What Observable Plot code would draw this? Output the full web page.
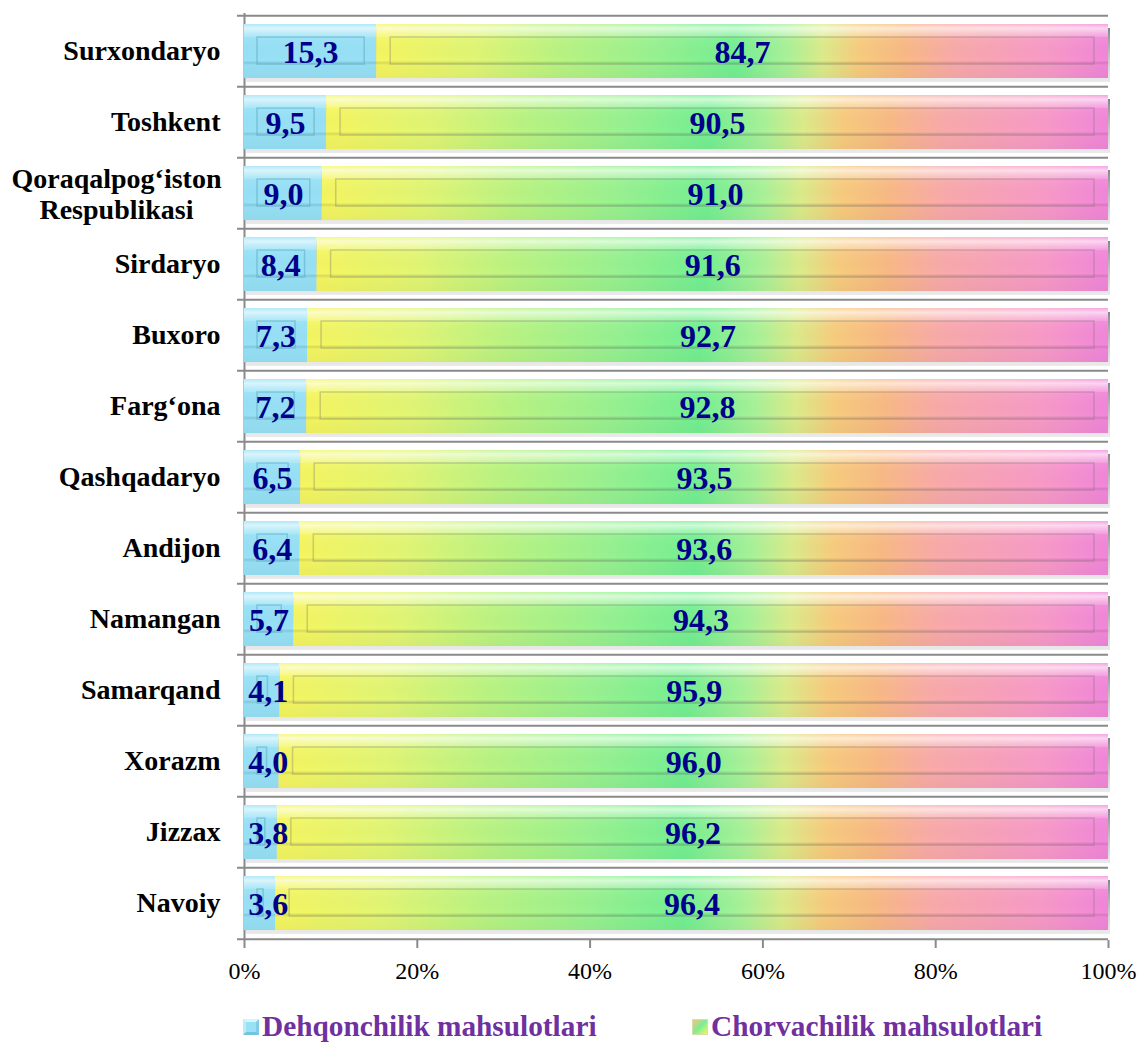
<!DOCTYPE html>
<html><head><meta charset="utf-8">
<script src="https://cdn.jsdelivr.net/npm/d3@7"></script>
<script src="https://cdn.jsdelivr.net/npm/@observablehq/plot@0.6"></script>
<style>
body{margin:0;background:#fff;}
#wrap{position:relative;width:1139px;height:1043px;overflow:hidden;}
.legend{position:absolute;top:1005px;height:43px;display:flex;align-items:center;font-family:"Liberation Serif","Times New Roman",serif;font-weight:bold;font-size:29.3px;color:#7030a0;white-space:nowrap;}
.sw{width:16px;height:16px;margin-right:3px;box-sizing:border-box;}
.sw1{background:#99e2f6;border:3px solid;border-color:#d4f5fc #80cbe6 #74c2dc #bcecf8;}
.sw2{background:linear-gradient(135deg,#f8c47a 0%,#7aee94 50%,#f5f560 100%);border:1px solid #dcdca8;}
</style></head><body><div id="wrap"></div>
<script>
const categories = ["Surxondaryo","Toshkent","Qoraqalpog‘iston\nRespublikasi","Sirdaryo","Buxoro","Farg‘ona","Qashqadaryo","Andijon","Namangan","Samarqand","Xorazm","Jizzax","Navoiy"];
const dehqonchilik = [15.3,9.5,9.0,8.4,7.3,7.2,6.5,6.4,5.7,4.1,4.0,3.8,3.6];
const chorvachilik = [84.7,90.5,91.0,91.6,92.7,92.8,93.5,93.6,94.3,95.9,96.0,96.2,96.4];
const xTicks = [0,20,40,60,80,100];
const seriesNames = ["Dehqonchilik mahsulotlari","Chorvachilik mahsulotlari"];

const rows = categories.map((c,i)=>({cat:c, d:dehqonchilik[i], c:chorvachilik[i]}));
const fmt = v => v.toFixed(1).replace(".", ",");

const W = 1139, H = 1000, mT = 13, mB = 60, mL = 244, mR = 31;
const step = (H - mT - mB) / categories.length;

function defs() {
  const d = d3.create("svg:defs");
  const g1 = d.append("linearGradient").attr("id","gChorva").attr("x1",0).attr("x2",1).attr("y1",0).attr("y2",0);
  [[0,"#f6f660"],[0.13,"#e2f674"],[0.25,"#baf482"],[0.38,"#98f290"],[0.49,"#74f092"],[0.56,"#a8f298"],[0.61,"#dcec8a"],[0.66,"#f8cc7e"],[0.72,"#f9ba84"],[0.79,"#f9aaaa"],[0.92,"#f89ac8"],[1,"#f286da"]]
    .forEach(([o,c])=>g1.append("stop").attr("offset",o).attr("stop-color",c));
  const g2 = d.append("linearGradient").attr("id","gBevel").attr("x1",0).attr("x2",0).attr("y1",0).attr("y2",1);
  [[0,"#fff",0.25],[0.08,"#fff",0.65],[0.16,"#fff",0.4],[0.235,"#fff",0.2],[0.25,"#fff",0.05],[0.68,"#000",0],[0.72,"#000",0.12],[0.76,"#000",0.02],[1,"#000",0.04]]
    .forEach(([o,c,a])=>g2.append("stop").attr("offset",o).attr("stop-color",c).attr("stop-opacity",a));
  const g3 = d.append("linearGradient").attr("id","gShadow").attr("x1",0).attr("x2",0).attr("y1",0).attr("y2",1);
  [[0,"#777",0.9],[1,"#bbb",0.3]].forEach(([o,c,a])=>g3.append("stop").attr("offset",o).attr("stop-color",c).attr("stop-opacity",a));
  return d.node();
}

const multi = categories.filter(c => c.includes("\n"));

const chart = Plot.plot({
  width: W, height: H,
  marginTop: mT, marginBottom: mB, marginLeft: mL, marginRight: mR,
  style: {fontFamily: "'Liberation Serif','Times New Roman',serif", color: "#000", background: "#fff"},
  x: {domain: [0,100], ticks: xTicks},
  y: {domain: categories, paddingInner: 0.24, paddingOuter: 0.12},
  marks: [
    defs,
    // separators
    Plot.ruleY(categories, {y: d => d, dy: -step/2, stroke: "#8a8a8a", strokeWidth: 2, insetLeft: -7}),
    Plot.ruleY([categories[categories.length-1]], {y: d => d, dy: step/2, stroke: "#8a8a8a", strokeWidth: 2, insetLeft: -7}),
    Plot.ruleX([0], {stroke: "#8a8a8a", strokeWidth: 2}),
    // shadow
    Plot.barX(rows, {y: "cat", x1: 0, x2: r => r.d + r.c, fill: "url(#gShadow)", dy: 4, dx: 2}),
    // bars
    Plot.barX(rows, {y: "cat", x1: 0, x2: "d", fill: "#97e1f6"}),
    Plot.barX(rows, {y: "cat", x1: "d", x2: r => r.d + r.c, fill: "url(#gChorva)"}),
    Plot.barX(rows, {y: "cat", x1: 0, x2: "d", fill: "url(#gBevel)"}),
    Plot.barX(rows, {y: "cat", x1: "d", x2: r => r.d + r.c, fill: "url(#gBevel)"}),
    Plot.barX(rows, {y: "cat", x1: 0, x2: "d", fill: "none", stroke: "#5aa8c4", strokeOpacity: 0.5, strokeWidth: 1.5, insetLeft: 13, insetRight: 12, insetTop: 13, insetBottom: 14}),
    Plot.barX(rows, {y: "cat", x1: "d", x2: r => r.d + r.c, fill: "none", stroke: "#707070", strokeOpacity: 0.32, strokeWidth: 1.5, insetLeft: 14, insetRight: 14, insetTop: 13, insetBottom: 14}),
    // value labels
    Plot.text(rows, {x: r => Math.max(r.d/2, 2.75), y: "cat", text: r => fmt(r.d), fontSize: 32, fontWeight: "bold", fill: "#00008b", dy: 1}),
    Plot.text(rows, {x: r => r.d + r.c/2, y: "cat", text: r => fmt(r.c), fontSize: 32, fontWeight: "bold", fill: "#00008b", dy: 1}),
    // axes
    Plot.axisY({tickSize: 0, tickPadding: 24, fontSize: 28, fontWeight: "bold", label: null, tickFormat: d => d.includes("\n") ? "" : d}),
    Plot.text(multi, {y: d => d, frameAnchor: "left", textAnchor: "middle", dx: -128, fontSize: 28, fontWeight: "bold", lineHeight: 1.1, fill: "#000"}),
    Plot.axisX({ticks: xTicks, tickFormat: d => d + "%", tickSize: 8, tickPadding: 13, fontSize: 24, stroke: "#8a8a8a", strokeWidth: 2, label: null})
  ]
});

const wrap = document.getElementById("wrap");
wrap.appendChild(chart);

const lg1 = document.createElement("div");
lg1.className = "legend"; lg1.style.left = "243px";
lg1.innerHTML = '<div class="sw sw1"></div><span></span>';
lg1.querySelector("span").textContent = seriesNames[0];
const lg2 = document.createElement("div");
lg2.className = "legend"; lg2.style.left = "692px";
lg2.innerHTML = '<div class="sw sw2"></div><span></span>';
lg2.querySelector("span").textContent = seriesNames[1];
wrap.appendChild(lg1); wrap.appendChild(lg2);
</script>
</body></html>
